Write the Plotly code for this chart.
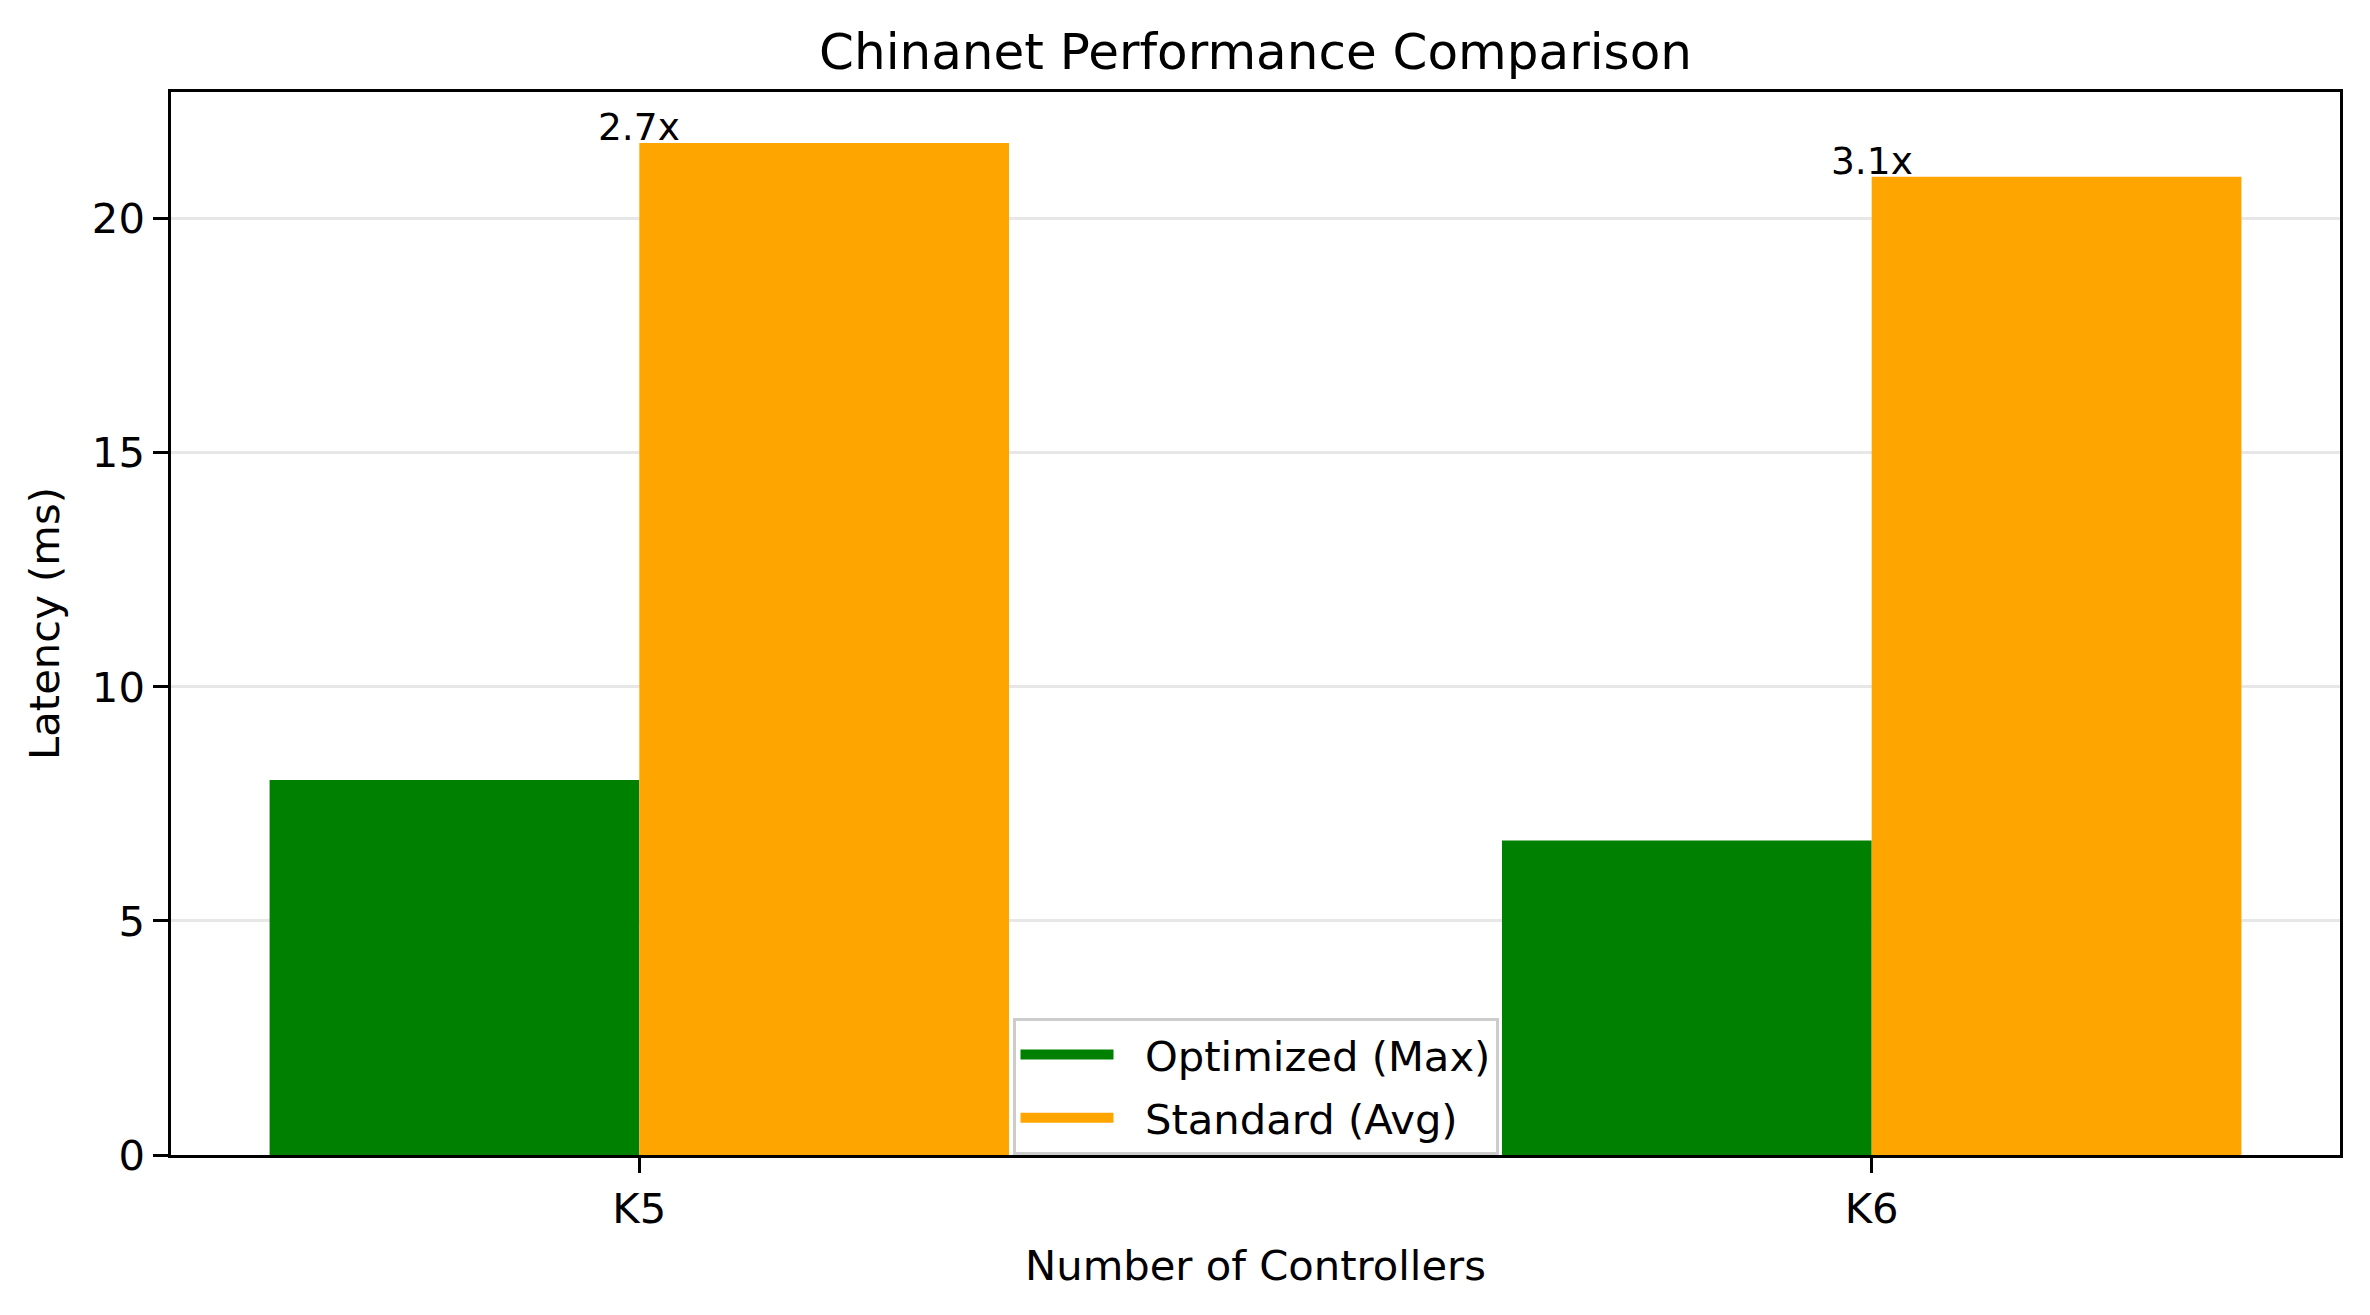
import plotly.graph_objects as go

categories = ["K5", "K6"]
optimized_max = [8.01, 6.72]
standard_avg = [21.62, 20.90]
ratio_labels = ["2.7x", "3.1x"]
series_names = ["Optimized (Max)", "Standard (Avg)"]

FONT = "DejaVu Sans"
GREEN = "#008000"
ORANGE = "#FFA500"
FS = 41.7
LW = 3.3

W, H = 2362, 1307

fig = go.Figure()
fig.add_trace(go.Bar(x=categories, y=optimized_max, name=series_names[0],
                     marker=dict(color=GREEN, line=dict(width=0)), showlegend=False))
fig.add_trace(go.Bar(x=categories, y=standard_avg, name=series_names[1],
                     marker=dict(color=ORANGE, line=dict(width=0)), showlegend=False))
# legend handles
for nm, col, grp in zip(series_names, [GREEN, ORANGE], ["a", "b"]):
    fig.add_trace(go.Scatter(x=[None], y=[None], mode="lines",
                             name="\u00a0\u00a0" + nm, legendgroup=grp,
                             line=dict(color=col, width=29)))

for c, v, t in zip(categories, standard_avg, ratio_labels):
    fig.add_annotation(x=c, y=v, text=t, showarrow=False, xanchor="center",
                       yanchor="bottom", yshift=-8,
                       font=dict(family=FONT, size=37.5, color="black"))

fig.update_layout(
    width=W, height=H,
    paper_bgcolor="white", plot_bgcolor="white",
    barmode="group", bargap=0.4, bargroupgap=0,
    margin=dict(l=163, r=30, t=84, b=160, autoexpand=False),
    font=dict(family=FONT, size=FS, color="black"),
    title=dict(text="Chinanet Performance Comparison", x=0.5, xref="paper",
               xanchor="center", y=1 - 43 / H, yanchor="middle",
               font=dict(family=FONT, size=50, color="black")),
    legend=dict(x=0.5, xanchor="center", y=0.0, yanchor="bottom",
                bgcolor="rgba(255,255,255,0.8)", bordercolor="#cccccc",
                borderwidth=3, font=dict(family=FONT, size=FS, color="black"),
                tracegroupgap=6, itemwidth=93),
    showlegend=True,
)

fig.update_xaxes(
    type="category", range=[-0.38, 1.38],
    showline=True, linecolor="black", linewidth=LW, mirror=True,
    ticks="outside", ticklen=14.6, tickwidth=LW, tickcolor="black",
    showgrid=False, zeroline=False,
    tickfont=dict(family=FONT, size=FS),
    title=dict(text="Number of Controllers", font=dict(family=FONT, size=FS), standoff=20),
)
fig.update_yaxes(
    range=[0, 22.71], tickvals=[0, 5, 10, 15, 20],
    showline=True, linecolor="black", linewidth=LW, mirror=True,
    ticks="outside", ticklen=14.6, tickwidth=LW, tickcolor="black",
    showgrid=True, gridcolor="rgba(176,176,176,0.3)", gridwidth=LW,
    zeroline=False, layer="above traces",
    tickfont=dict(family=FONT, size=FS),
    title=dict(text="Latency (ms)", font=dict(family=FONT, size=FS), standoff=20),
)

fig.write_html("out.html")
